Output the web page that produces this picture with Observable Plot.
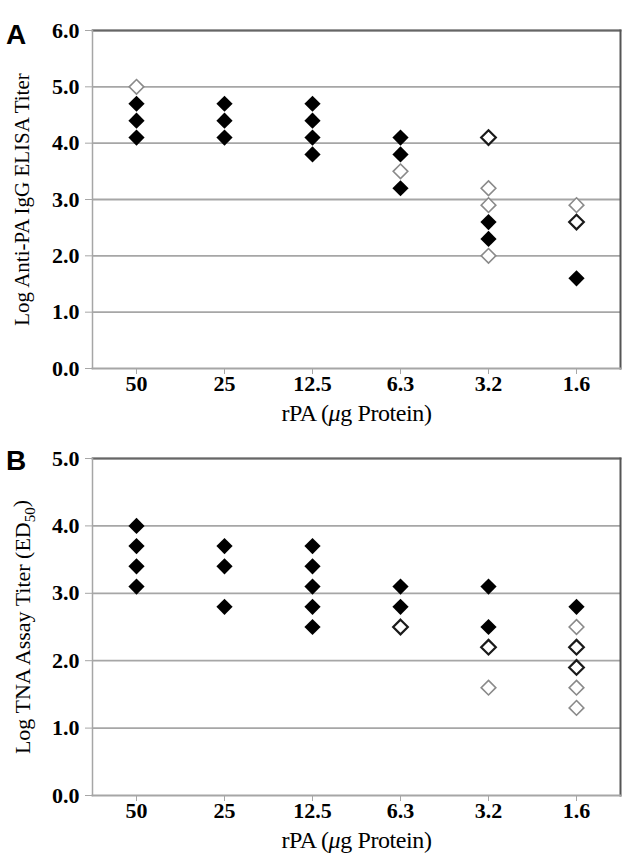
<!DOCTYPE html>
<html><head><meta charset="utf-8">
<script src="https://cdn.jsdelivr.net/npm/d3@7"></script>
<script src="https://cdn.jsdelivr.net/npm/@observablehq/plot@0.6"></script>
<style>
body{margin:0;background:#fff;}
#wrap{position:relative;width:622px;height:856px;overflow:hidden;}
.panel{position:absolute;left:0;}
.letter{position:absolute;font-family:"Liberation Sans",Arial,sans-serif;font-weight:bold;font-size:28px;}
</style></head>
<body><div id="wrap"></div>
<script>
const doses = ["50","25","12.5","6.3","3.2","1.6"];
const yTicksA = [0,1,2,3,4,5,6];
const yTicksB = [0,1,2,3,4,5];

// Panel A: Log Anti-PA IgG ELISA titer
const elisaFilled   = [[4.7,4.4,4.1],[4.7,4.4,4.1],[4.7,4.4,4.1,3.8],[4.1,3.8,3.2],[2.6,2.3],[1.6]];
const elisaOpenGray = [[5.0],[],[],[3.5],[3.2,2.9,2.0],[2.9]];
const elisaOpenDark = [[],[],[],[],[4.1],[2.6]];

// Panel B: Log TNA assay titer (ED50)
const tnaFilled   = [[4.0,3.7,3.4,3.1],[3.7,3.4,2.8],[3.7,3.4,3.1,2.8,2.5],[3.1,2.8],[3.1,2.5],[2.8]];
const tnaOpenGray = [[],[],[],[],[1.6],[2.5,1.6,1.3]];
const tnaOpenDark = [[],[],[],[2.5],[2.2],[2.2,1.9]];

function rows(arr){ return doses.flatMap((d,i)=>arr[i].map(v=>({dose:d, v}))); }

function panel({filled, gray, dark, ymax, ticks, height, marginTop, marginBottom, ylabel, sub, ysize}){
  const svg = Plot.plot({
    width: 622, height, marginTop, marginBottom, marginLeft: 92, marginRight: 2,
    style: {fontFamily: "'Liberation Serif','Times New Roman',serif", background: "#fff", color: "#000"},
    x: {type: "band", domain: doses, padding: 0},
    y: {domain: [0, ymax]},
    marks: [
      Plot.gridY(ticks.slice(1), {stroke: "#a6a6a6", strokeOpacity: 1, strokeWidth: 1.8}),
      Plot.frame({anchor: "top", stroke: "#666", strokeWidth: 1.8}),
      Plot.frame({anchor: "right", stroke: "#555", strokeWidth: 2}),
      Plot.frame({anchor: "left", stroke: "#a6a6a6", strokeWidth: 1.5}),
      Plot.frame({anchor: "bottom", stroke: "#a6a6a6", strokeWidth: 1.8}),
      Plot.axisY({ticks, tickFormat: d3.format(".1f"), tickSize: 7, tickPadding: 6, fontSize: 22, fontWeight: "bold",
        stroke: "#a6a6a6", label: ylabel, labelAnchor: "center", labelOffset: 78, labelArrow: "none"}),
      Plot.axisX({tickSize: 6, tickPadding: 1, fontSize: 22, fontWeight: "bold", stroke: "#a6a6a6",
        label: "rPA (μg Protein)", labelAnchor: "center", labelOffset: 52, labelArrow: "none"}),
      Plot.dot(rows(filled), {x: "dose", y: "v", symbol: "diamond2", r: 7.3, fill: "#000", stroke: "none"}),
      Plot.dot(rows(gray), {x: "dose", y: "v", symbol: "diamond2", r: 6.6, fill: "#fff", stroke: "#8a8a8a", strokeWidth: 1.6}),
      Plot.dot(rows(dark), {x: "dose", y: "v", symbol: "diamond2", r: 6.6, fill: "#fff", stroke: "#1a1a1a", strokeWidth: 2.2})
    ]
  });
  const s = d3.select(svg);
  s.selectAll('g[aria-label="y-axis label"] text').attr("font-size", ysize).attr("font-weight", "normal").each(function(){
    if (!sub) return;
    const t = d3.select(this);
    t.text(null);
    t.append("tspan").text(ylabel);
    t.append("tspan").attr("font-size", 15).attr("dy", "0.3em").text(sub);
    t.append("tspan").attr("dy", "-0.3em").text(")");
  });
  s.selectAll('g[aria-label="x-axis label"] text').each(function(){
    const t = d3.select(this);
    t.text(null).attr("font-weight", "normal").attr("font-size", 24).attr("letter-spacing", "-0.4px");
    t.append("tspan").text("rPA (");
    t.append("tspan").attr("font-style", "italic").text("μ");
    t.append("tspan").text("g Protein)");
  });
  return svg;
}

const wrap = document.getElementById("wrap");
const a = panel({filled: elisaFilled, gray: elisaOpenGray, dark: elisaOpenDark, ymax: 6, ticks: yTicksA,
  height: 430, marginTop: 30, marginBottom: 62, ylabel: "Log Anti-PA IgG ELISA Titer", ysize: 21});
a.classList.add("panel"); a.style.top = "0px";
const b = panel({filled: tnaFilled, gray: tnaOpenGray, dark: tnaOpenDark, ymax: 5, ticks: yTicksB,
  height: 426, marginTop: 28, marginBottom: 61, ylabel: "Log TNA Assay Titer (ED", sub: "50", ysize: 22});
b.classList.add("panel"); b.style.top = "430px";
wrap.append(a, b);
const la = document.createElement("div"); la.className = "letter"; la.textContent = "A"; la.style.left = "6px"; la.style.top = "19px";
const lb = document.createElement("div"); lb.className = "letter"; lb.textContent = "B"; lb.style.left = "6px"; lb.style.top = "445px";
wrap.append(la, lb);
</script></body></html>
